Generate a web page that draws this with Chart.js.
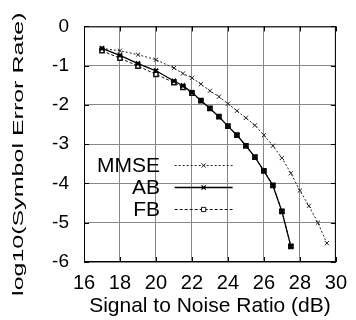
<!DOCTYPE html>
<html>
<head>
<meta charset="utf-8">
<script src="https://cdn.jsdelivr.net/npm/chart.js@4/dist/chart.umd.min.js"></script>
<style>
  html, body { margin: 0; padding: 0; background: #fff; }
  #wrap { width: 356px; height: 320px; }
</style>
</head>
<body>
<div id="wrap"><canvas id="myChart" width="356" height="320"></canvas></div>
<script>
// data
var mmseX = [17, 18, 19, 20, 21, 21.5, 22, 22.5, 23, 23.5, 24, 24.5, 25, 25.5, 26, 26.5, 27, 27.5, 28, 28.5, 29, 29.5];
var mmseY = [-0.56, -0.62, -0.72, -0.85, -1.06, -1.2, -1.31, -1.47, -1.64, -1.79, -1.97, -2.15, -2.33, -2.52, -2.77, -3.04, -3.35, -3.74, -4.18, -4.57, -5.0, -5.52];
var abX = [17, 18, 19, 20, 21, 21.5, 22, 22.5, 23, 23.5, 24, 24.5, 25, 25.5, 26, 26.5, 27, 27.5];
var abY = [-0.56, -0.74, -0.95, -1.13, -1.39, -1.51, -1.68, -1.89, -2.09, -2.3, -2.54, -2.77, -3.04, -3.33, -3.68, -4.05, -4.71, -5.6];
var fbX = [17, 18, 19, 20, 21, 21.5, 22, 22.5, 23, 23.5, 24, 24.5, 25, 25.5, 26, 26.5, 27, 27.5];
var fbY = [-0.62, -0.81, -1.01, -1.22, -1.43, -1.55, -1.7, -1.89, -2.09, -2.3, -2.54, -2.77, -3.04, -3.33, -3.68, -4.05, -4.71, -5.6];
var seriesNames = ['MMSE', 'AB', 'FB'];
var yTitle = 'log10(Symbol Error Rate)';
var xTitle = 'Signal to Noise Ratio (dB)';

function pts(xs, ys) {
    var out = [];
    for (var i = 0; i < xs.length; i++) out.push({x: xs[i], y: ys[i]});
    return out;
}

var FONT = '"Liberation Sans", Arial, sans-serif';

// box, inner ticks, narrow y title and the in-plot legend
var framePlugin = {
    id: 'frame',
    afterDraw: function(chart) {
        var c = chart.ctx, a = chart.chartArea;
        var xs = chart.scales.x, ys = chart.scales.y;
        c.save();
        c.strokeStyle = '#000';
        c.lineWidth = 1;
        c.setLineDash([]);
        c.strokeRect(a.left + 0.5, a.top + 0.5, a.right - a.left - 1, a.bottom - a.top - 1);
        c.beginPath();
        xs.ticks.forEach(function(t) {
            var px = Math.round(xs.getPixelForValue(t.value)) + 0.5;
            c.moveTo(px, a.bottom); c.lineTo(px, a.bottom - 5);
            c.moveTo(px, a.top); c.lineTo(px, a.top + 5);
        });
        ys.ticks.forEach(function(t) {
            var py = Math.round(ys.getPixelForValue(t.value)) + 0.5;
            c.moveTo(a.left, py); c.lineTo(a.left + 5, py);
            c.moveTo(a.right, py); c.lineTo(a.right - 5, py);
        });
        c.stroke();

        // y title, tall and narrow like the scan
        c.save();
        c.translate(19, (a.top + a.bottom) / 2 + 10);
        c.rotate(-Math.PI / 2);
        c.scale(1, 0.62);
        c.font = '25px ' + FONT;
        c.fillStyle = '#000';
        c.textAlign = 'center';
        c.textBaseline = 'middle';
        c.fillText(yTitle, 0, 0);
        c.restore();

        // legend
        var w = a.right - a.left, h = a.bottom - a.top;
        var textRight = a.left + w * 0.302;
        var lineL = a.left + w * 0.36;
        var lineR = a.left + w * 0.59;
        var rows = [0.587, 0.682, 0.776];
        c.font = '21px ' + FONT;
        c.textAlign = 'right';
        c.textBaseline = 'middle';
        chart.data.datasets.forEach(function(ds, i) {
            var yy = Math.round(a.top + h * rows[i]) + 0.5;
            c.fillStyle = '#000';
            c.fillText(seriesNames[i], textRight, yy + 1);
            c.strokeStyle = ds.borderColor;
            c.lineWidth = ds.borderWidth;
            c.setLineDash(ds.borderDash || []);
            c.beginPath();
            c.moveTo(lineL, yy); c.lineTo(lineR, yy);
            c.stroke();
            c.setLineDash([]);
            c.fillStyle = ds.backgroundColor;
            c.strokeStyle = ds.borderColor;
            Chart.helpers.drawPoint(c, {
                pointStyle: ds.pointStyle,
                radius: ds.pointRadius,
                borderWidth: ds.pointBorderWidth
            }, (lineL + lineR) / 2, yy);
        });
        c.restore();
    }
};

var ctx = document.getElementById('myChart').getContext('2d');
var chart = new Chart(ctx, {
    type: 'line',
    data: {
        datasets: [
            {
                label: seriesNames[0],
                data: pts(mmseX, mmseY),
                borderColor: '#222',
                backgroundColor: '#222',
                borderWidth: 1,
                borderDash: [2, 2],
                pointStyle: 'crossRot',
                pointRadius: 3,
                pointBorderWidth: 1,
                order: 2
            },
            {
                label: seriesNames[1],
                data: pts(abX, abY),
                borderColor: '#000',
                backgroundColor: '#000',
                borderWidth: 1.3,
                pointStyle: 'crossRot',
                pointRadius: 3,
                pointBorderWidth: 2,
                order: 0
            },
            {
                label: seriesNames[2],
                data: pts(fbX, fbY),
                borderColor: '#111',
                backgroundColor: '#fff',
                borderWidth: 1,
                borderDash: [3, 2],
                pointStyle: 'rect',
                pointRadius: 3,
                pointBorderWidth: 1.5,
                order: 1
            }
        ]
    },
    options: {
        responsive: false,
        animation: false,
        layout: { padding: { top: 20, right: 14, left: 0, bottom: 0 } },
        plugins: { legend: { display: false }, tooltip: { enabled: false } },
        elements: { line: { tension: 0 } },
        scales: {
            x: {
                type: 'linear',
                min: 16, max: 30,
                afterFit: function(s) { s.height = 58; },
                ticks: { stepSize: 2, color: '#000', padding: 9, font: { family: FONT, size: 20 }, maxRotation: 0 },
                grid: { color: '#888', lineWidth: 1, drawTicks: false },
                border: { display: false },
                title: { display: true, text: xTitle, color: '#000', font: { family: FONT, size: 21 }, padding: { top: 0, bottom: 1 } }
            },
            y: {
                min: -6, max: 0,
                afterFit: function(s) { s.width = 84; },
                ticks: { stepSize: 1, color: '#000', padding: 15, font: { family: FONT, size: 19 } },
                grid: { color: '#888', lineWidth: 1, drawTicks: false },
                border: { display: false },
                title: { display: false }
            }
        }
    },
    plugins: [framePlugin]
});
</script>
</body>
</html>
